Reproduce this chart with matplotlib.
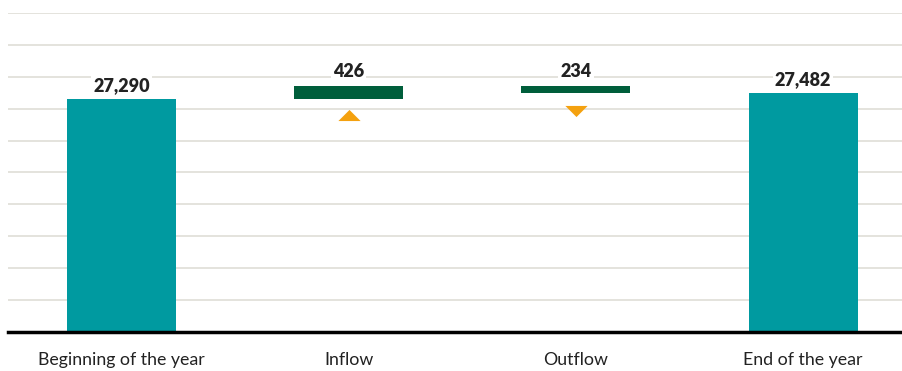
import matplotlib
matplotlib.use('Agg')
import matplotlib.pyplot as plt
import matplotlib.transforms as mtransforms
from matplotlib.path import Path

categories = ["Beginning of the year", "Inflow", "Outflow", "End of the year"]
start_value = 27290
inflow = 426
outflow = 234
end_value = 27482
labels = ["27,290", "426", "234", "27,482"]

teal = '#009aa0'
green = '#005e3b'
orange = '#f4a10f'

plt.rcParams['font.family'] = ['Lato', 'DejaVu Sans']

fig = plt.figure(figsize=(9.03, 3.71), dpi=100)
ax = fig.add_axes([8 / 903, 1 - 332 / 371, 895 / 903, (332 - 13) / 371])

x = list(range(len(categories)))
w = 0.48

# waterfall: totals from the axis floor, flows floating
ymin = 20000
bottoms = [ymin, start_value, start_value + inflow - outflow, ymin]
heights = [start_value - ymin, inflow, outflow, end_value - ymin]
colors = [teal, green, green, teal]
ax.bar(x, heights, bottom=bottoms, width=w, color=colors, zorder=3)

# value labels above bars
tops = [b + h for b, h in zip(bottoms, heights)]
for xi, t, lab in zip(x, tops, labels):
    ax.annotate(lab, (xi, t), xytext=(0, 4), textcoords='offset points',
                ha='center', va='bottom', fontsize=13, fontweight='heavy',
                color='#222222', zorder=4,
                bbox=dict(facecolor='white', edgecolor='none', pad=1.5))

# flat up/down arrows under the flow bars
tri_up = Path([(-1, -0.5), (1, -0.5), (0, 0.5), (-1, -0.5)],
              [Path.MOVETO, Path.LINETO, Path.LINETO, Path.CLOSEPOLY])
tri_dn = Path([(-1, 0.5), (1, 0.5), (0, -0.5), (-1, 0.5)],
              [Path.MOVETO, Path.LINETO, Path.LINETO, Path.CLOSEPOLY])
off_up = mtransforms.offset_copy(ax.transData, fig=fig, x=0, y=-11.2, units='points')
off_dn = mtransforms.offset_copy(ax.transData, fig=fig, x=0, y=-12.6, units='points')
ax.plot([x[1]], [bottoms[1]], marker=tri_up, markersize=16, color=orange,
        markeredgewidth=0, transform=off_up, clip_on=False, zorder=3)
ax.plot([x[2]], [bottoms[2]], marker=tri_dn, markersize=16, color=orange,
        markeredgewidth=0, transform=off_dn, clip_on=False, zorder=3)

ax.set_xlim(-0.5, 3.44)
ax.set_ylim(ymin, 30000)
ax.set_yticks(range(20000, 30001, 1000))
ax.yaxis.grid(True, color='#e2e0da', linewidth=1.3, zorder=0)
ax.tick_params(axis='y', left=False, labelleft=False)
ax.tick_params(axis='x', bottom=False, pad=11, labelsize=12.8, labelcolor='#222222')
ax.set_xticks(x)
ax.set_xticklabels(categories)
for s in ['top', 'right', 'left']:
    ax.spines[s].set_visible(False)
ax.spines['bottom'].set_linewidth(2.5)
ax.spines['bottom'].set_color('black')
ax.spines['bottom'].set_zorder(5)

plt.savefig('out.png', dpi=100)
plt.close()
